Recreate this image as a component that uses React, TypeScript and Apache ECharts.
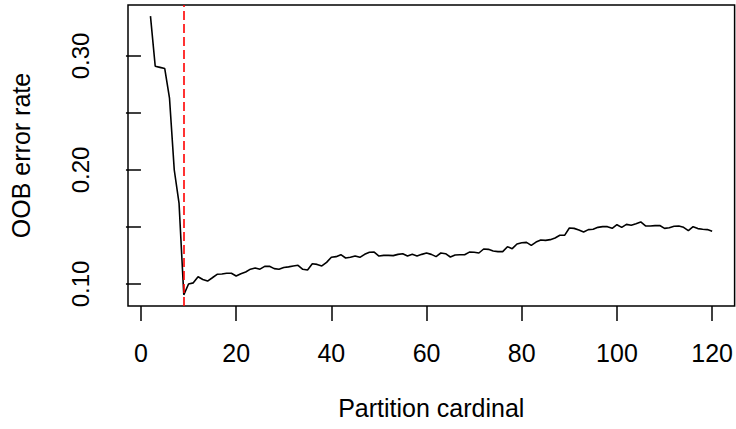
import React, { useEffect, useRef } from "react";
import * as echarts from "echarts";

const startCardinal = 2;
const oobError = [
  0.335, 0.291, 0.29, 0.289, 0.263, 0.2, 0.171, 0.0905, 0.1, 0.101,
  0.1064, 0.104, 0.1026, 0.1055, 0.1085, 0.1088, 0.1094, 0.1094, 0.107, 0.109,
  0.1105, 0.113, 0.114, 0.113, 0.1155, 0.1155, 0.1135, 0.113, 0.1145, 0.115,
  0.1158, 0.1164, 0.1129, 0.1123, 0.1178, 0.1172, 0.1158, 0.119, 0.1234, 0.124,
  0.1257, 0.1228, 0.1234, 0.1246, 0.1234, 0.126, 0.1278, 0.128, 0.1245, 0.1251,
  0.1251, 0.1249, 0.126, 0.1266, 0.1246, 0.126, 0.1246, 0.126, 0.1272, 0.126,
  0.124, 0.1272, 0.1266, 0.1237, 0.1254, 0.1257, 0.1257, 0.128, 0.1278, 0.1272,
  0.1307, 0.1304, 0.129, 0.1284, 0.1284, 0.1327, 0.131, 0.1351, 0.1362, 0.1365,
  0.1339, 0.1368, 0.1386, 0.1383, 0.1389, 0.1404, 0.1427, 0.1427, 0.1491, 0.1488,
  0.1474, 0.1456, 0.1477, 0.148, 0.1497, 0.1503, 0.1503, 0.1488, 0.152, 0.1497,
  0.1523, 0.1515, 0.1529, 0.1544, 0.1509, 0.1509, 0.1512, 0.1513, 0.1488, 0.1494,
  0.1506, 0.1509, 0.1497, 0.1468, 0.1503, 0.1486, 0.148, 0.1477, 0.1462,
];
const bestCardinal = 9;
const xTicks = [0, 20, 40, 60, 80, 100, 120];
const yTicks = [0.1, 0.15, 0.2, 0.25, 0.3];
const yLabels = [0.1, 0.2, 0.3];
const xTitle = "Partition cardinal";
const yTitle = "OOB error rate";

const FONT = "'Liberation Sans', Arial, Helvetica, sans-serif";

export default function App() {
  const ref = useRef<HTMLDivElement>(null);
  useEffect(() => {
    if (!ref.current) return;
    const chart = echarts.init(ref.current, null, { renderer: "svg" });
    const data = oobError.map((v, i) => [i + startCardinal, v]);
    chart.setOption({
      animation: false,
      backgroundColor: "#ffffff",
      grid: {
        left: 128,
        top: 5,
        width: 609,
        height: 301,
        show: true,
        borderColor: "#000",
        borderWidth: 1.5,
        backgroundColor: "transparent",
      },
      xAxis: {
        type: "value",
        min: -2.72,
        max: 124.72,
        splitLine: { show: false },
        axisLine: { show: false },
        axisTick: {
          show: true,
          length: 15,
          customValues: xTicks,
          lineStyle: { color: "#000", width: 1.5 },
        },
        axisLabel: {
          customValues: xTicks,
          margin: 34,
          fontSize: 25,
          color: "#000",
          fontFamily: FONT,
        },
        name: xTitle,
        nameLocation: "middle",
        nameGap: 89,
        nameTextStyle: { fontSize: 25, color: "#000", fontFamily: FONT },
      },
      yAxis: {
        type: "value",
        min: 0.0807,
        max: 0.34474,
        splitLine: { show: false },
        axisLine: { show: false },
        axisTick: {
          show: true,
          length: 15,
          customValues: yTicks,
          lineStyle: { color: "#000", width: 1.5 },
        },
        axisLabel: {
          customValues: yLabels,
          rotate: 90,
          margin: 36,
          fontSize: 24,
          color: "#000",
          fontFamily: FONT,
          formatter: (v: number) => v.toFixed(2),
        },
        name: yTitle,
        nameLocation: "middle",
        nameGap: 95,
        nameRotate: 90,
        nameTextStyle: { fontSize: 25, color: "#000", fontFamily: FONT },
      },
      series: [
        {
          type: "line",
          data,
          showSymbol: false,
          symbol: "none",
          lineStyle: { color: "#000", width: 1.6 },
          markLine: {
            silent: true,
            symbol: ["none", "none"],
            label: { show: false },
            lineStyle: { color: "#ff0000", type: [9, 4], width: 1.6 },
            data: [{ xAxis: bestCardinal }],
          },
        },
      ],
    });
    return () => chart.dispose();
  }, []);
  return (
    <div
      ref={ref}
      style={{ position: "fixed", left: 0, top: 0, width: 736, height: 429, background: "#fff" }}
    />
  );
}
